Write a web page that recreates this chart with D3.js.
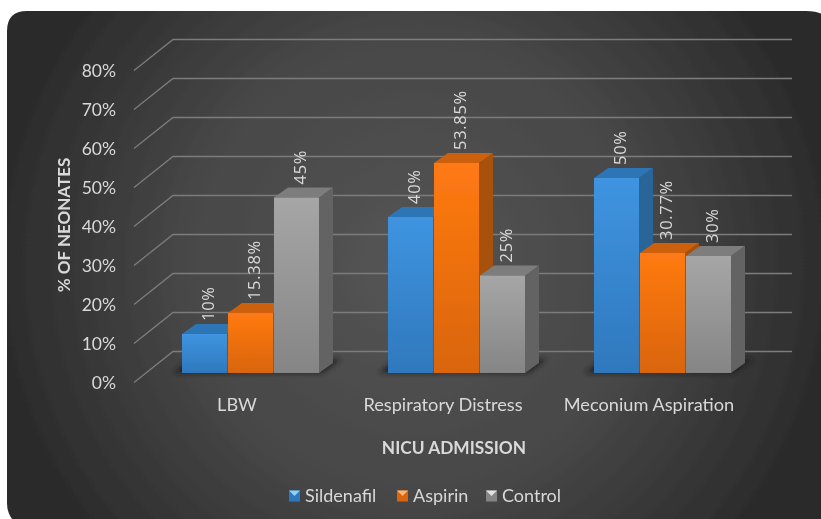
<!DOCTYPE html>
<html>
<head>
<meta charset="utf-8">
<script src="https://cdn.jsdelivr.net/npm/d3@7/dist/d3.min.js"></script>
<style>
html, body { margin: 0; padding: 0; background: #fff; }
svg { display: block; }
text { font-family: Lato, "Open Sans", sans-serif; }
</style>
</head>
<body>
<div id="chart"></div>
<script>
const categories = ["LBW", "Respiratory Distress", "Meconium Aspiration"];
const seriesNames = ["Sildenafil", "Aspirin", "Control"];
const sildenafil = [10, 40, 50];
const aspirin = [15.38, 53.85, 30.77];
const control = [45, 25, 30];
const yTicks = [0, 10, 20, 30, 40, 50, 60, 70, 80];

const seriesValues = [sildenafil, aspirin, control];
const front = ["#3f94e0", "#ff7a12", "#a6a6a6"];
const frontLow = ["#2f78bd", "#d9650c", "#858585"];
const topColor = ["#2f74b5", "#cc610c", "#7d7d7d"];
const sideColor = ["#2a6599", "#a85108", "#636363"];
const legendTop = ["#8fd0f5", "#f7b877", "#e2e2e2"];

const width = 821, height = 519;
const svg = d3.select("#chart").append("svg")
    .attr("width", width)
    .attr("height", height);

const defs = svg.append("defs");

const bg = defs.append("radialGradient").attr("id", "panelBg")
    .attr("gradientUnits", "userSpaceOnUse")
    .attr("cx", 414).attr("cy", 265).attr("r", 420);
bg.append("stop").attr("offset", "0%").attr("stop-color", "#555555");
bg.append("stop").attr("offset", "55%").attr("stop-color", "#474747");
bg.append("stop").attr("offset", "100%").attr("stop-color", "#2b2b2b");

seriesNames.forEach(function (s, i) {
    const g = defs.append("linearGradient").attr("id", "bar" + i)
        .attr("x1", 0).attr("y1", 0).attr("x2", 0).attr("y2", 1);
    g.append("stop").attr("offset", "0%").attr("stop-color", front[i]);
    g.append("stop").attr("offset", "100%").attr("stop-color", frontLow[i]);
});

defs.append("filter").attr("id", "soft")
    .attr("x", "-10%").attr("y", "-50%").attr("width", "120%").attr("height", "200%")
    .append("feGaussianBlur").attr("stdDeviation", 2.5);
defs.append("filter").attr("id", "photoBlur")
    .attr("filterUnits", "userSpaceOnUse")
    .attr("x", 0).attr("y", 0).attr("width", width).attr("height", height)
    .append("feGaussianBlur").attr("stdDeviation", 0.35);

const root = svg.append("g").attr("filter", "url(#photoBlur)");

root.append("path")
    .attr("d", "M7,31 Q7,11 27,11 H806 Q816,11 822,14 V519 H12 Q7,512 7,503 Z")
    .attr("fill", "url(#panelBg)");

const x0 = d3.scaleBand().domain(categories).range([148, 766]);
const x1 = d3.scaleBand().domain(seriesNames).range([-69, 69]);
const y = d3.scaleLinear().domain([0, 80]).range([373, 61]);

// 3D offsets
const wallDx = 39, wallDy = -31;
const floorDy = 9.5;
const depthX = 14, depthY = -10;

// gridlines, one side wall diagonal + back wall line per tick
const grid = root.append("g");
grid.selectAll("path")
    .data(yTicks)
    .enter().append("path")
    .attr("fill", "none")
    .attr("stroke", "#7c7c7c")
    .attr("stroke-width", 1.3)
    .attr("d", function (d) {
        const yf = y(d) + floorDy;
        return "M134," + yf + "L" + (134 + wallDx) + "," + (yf + wallDy) + "H792";
    });

// floor shadow under each group
root.append("g").selectAll("path")
    .data(categories)
    .enter().append("path")
    .attr("fill", "#1c1c1c")
    .attr("opacity", 0.85)
    .attr("filter", "url(#soft)")
    .attr("d", function (d) {
        const c = x0(d) + x0.bandwidth() / 2;
        return "M" + (c - 78) + ",373H" + (c + 72) + "L" + (c + 90) + ",359H" + (c - 62) + "Z";
    });

const groups = root.append("g").selectAll("g")
    .data(categories)
    .enter().append("g")
    .attr("transform", function (d) {
        return "translate(" + (x0(d) + x0.bandwidth() / 2) + ",0)";
    });

groups.each(function (cat, ci) {
    const g = d3.select(this);
    seriesNames.forEach(function (s, si) {
        const v = seriesValues[si][ci];
        const left = x1(s), w = x1.bandwidth() - 1;
        const top = y(v), base = y(0);
        g.append("path")
            .attr("fill", sideColor[si])
            .attr("d", "M" + (left + w) + "," + top + "l" + depthX + "," + depthY +
                "V" + (base + depthY) + "l" + (-depthX) + "," + (-depthY) + "Z");
        g.append("path")
            .attr("fill", topColor[si])
            .attr("d", "M" + left + "," + top + "l" + depthX + "," + depthY +
                "h" + w + "l" + (-depthX) + "," + (-depthY) + "Z");
        g.append("rect")
            .attr("x", left).attr("y", top)
            .attr("width", w).attr("height", base - top)
            .attr("fill", "url(#bar" + si + ")");
    });
});

// data labels drawn after all bars
groups.each(function (cat, ci) {
    const g = d3.select(this);
    seriesNames.forEach(function (s, si) {
        const v = seriesValues[si][ci];
        const lx = x1(s) + x1.bandwidth() / 2 + 3;
        const ly = y(v) - 13;
        g.append("text")
            .attr("transform", "translate(" + lx + "," + ly + ") rotate(-90)")
            .attr("dy", "0.35em")
            .attr("font-family", "'Open Sans'")
            .style("font-family", "'Open Sans'")
            .attr("font-size", 16.5)
            .attr("letter-spacing", 0.7)
            .attr("fill", "#d9d9d9")
            .text(v + "%");
    });
});

// y axis labels
const yLabels = root.append("g");
yLabels.selectAll("text")
    .data(yTicks)
    .enter().append("text")
    .attr("x", 116)
    .attr("y", function (d) { return y(d) + floorDy; })
    .attr("dy", "0.35em")
    .attr("text-anchor", "end")
    .attr("font-size", 17.5)
    .attr("fill", "#d9d9d9")
    .text(function (d) { return d + "%"; });

// category labels
root.append("g").selectAll("text")
    .data(categories)
    .enter().append("text")
    .attr("x", function (d) { return x0(d) + x0.bandwidth() / 2 - 14; })
    .attr("y", 411)
    .attr("text-anchor", "middle")
    .attr("font-size", 18.2)
    .attr("fill", "#d9d9d9")
    .text(function (d) { return d; });

root.append("text")
    .attr("x", 454).attr("y", 454)
    .attr("text-anchor", "middle")
    .attr("font-size", 17.3)
    .attr("font-weight", "bold")
    .attr("fill", "#d9d9d9")
    .text("NICU ADMISSION");

root.append("text")
    .attr("transform", "translate(70,225) rotate(-90)")
    .attr("text-anchor", "middle")
    .attr("font-size", 17)
    .attr("font-weight", "bold")
    .attr("fill", "#d9d9d9")
    .text("% OF NEONATES");

// legend
const legendX = [289, 397, 486];
const legend = root.append("g").selectAll("g")
    .data(seriesNames)
    .enter().append("g")
    .attr("transform", function (d, i) { return "translate(" + legendX[i] + ",496)"; });
legend.append("rect")
    .attr("x", 0).attr("y", -5.5)
    .attr("width", 11).attr("height", 11)
    .attr("fill", function (d, i) { return frontLow[i]; });
legend.append("path")
    .attr("d", "M0,-5.5H11L5.5,0Z")
    .attr("fill", function (d, i) { return legendTop[i]; });
legend.append("text")
    .attr("x", 16)
    .attr("dy", "0.35em")
    .attr("font-size", 18)
    .attr("fill", "#d9d9d9")
    .text(function (d) { return d; });
</script>
</body>
</html>
